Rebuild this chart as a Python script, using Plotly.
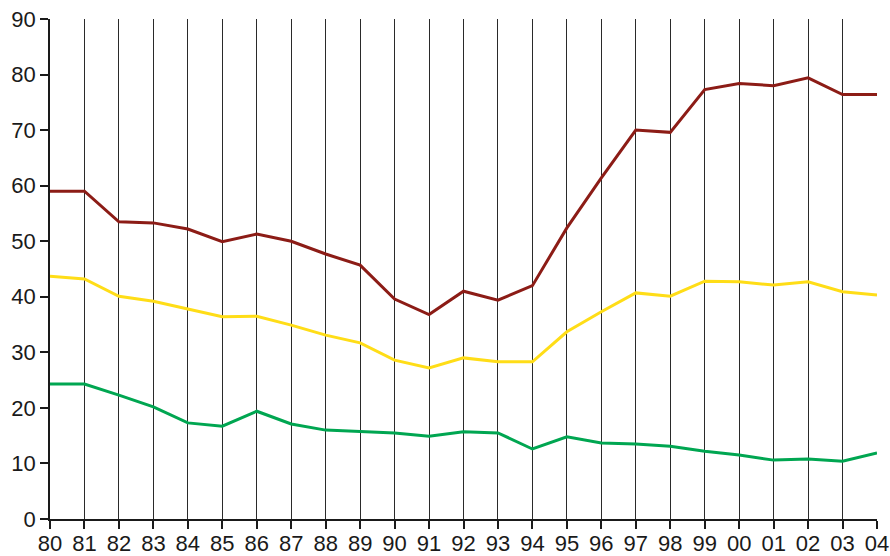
import plotly.graph_objects as go

# Two-digit year labels, 1980 to 2004
years = ["80", "81", "82", "83", "84", "85", "86", "87", "88", "89", "90", "91", "92",
         "93", "94", "95", "96", "97", "98", "99", "00", "01", "02", "03", "04"]

series_red = [59.0, 59.0, 53.5, 53.3, 52.2, 49.9, 51.3, 50.0, 47.7, 45.7, 39.6, 36.8, 41.0,
              39.4, 42.0, 52.4, 61.4, 70.0, 69.6, 77.3, 78.4, 78.0, 79.4, 76.4, 76.4]
series_yellow = [43.7, 43.2, 40.1, 39.2, 37.8, 36.4, 36.5, 34.9, 33.1, 31.7, 28.6, 27.2, 29.0,
                 28.3, 28.3, 33.7, 37.3, 40.7, 40.1, 42.8, 42.7, 42.1, 42.7, 40.9, 40.3]
series_green = [24.3, 24.3, 22.3, 20.2, 17.3, 16.7, 19.4, 17.1, 16.0, 15.8, 15.5, 14.9, 15.7,
                15.5, 12.6, 14.8, 13.7, 13.5, 13.1, 12.2, 11.5, 10.6, 10.8, 10.4, 11.9]

y_ticks = [0, 10, 20, 30, 40, 50, 60, 70, 80, 90]

x_idx = list(range(len(years)))

fig = go.Figure()
for vals, color in [(series_red, "#8c1c16"), (series_yellow, "#ffdd17"), (series_green, "#00a651")]:
    fig.add_trace(go.Scatter(x=x_idx, y=vals, mode="lines",
                             line=dict(color=color, width=3), showlegend=False,
                             hoverinfo="skip"))

tick_font = dict(family="Liberation Sans, Arial, sans-serif", size=22, color="#1a1a1a")

fig.update_layout(
    width=890, height=556,
    margin=dict(l=50, r=13, t=19, b=37, autoexpand=False),
    paper_bgcolor="white", plot_bgcolor="white",
    font=tick_font,
    xaxis=dict(
        range=[0, 24], tickmode="array", tickvals=x_idx, ticktext=years,
        tickfont=tick_font, automargin=False, ticklabelstandoff=-4,
        showgrid=True, gridcolor="#2a2a2a", gridwidth=1,
        showline=True, linecolor="#1a1a1a", linewidth=1.5,
        ticks="outside", ticklen=8, tickcolor="#1a1a1a", tickwidth=1.5,
        zeroline=False, fixedrange=True,
    ),
    yaxis=dict(
        range=[0, 90], tickmode="array", tickvals=y_ticks,
        tickfont=tick_font, automargin=False,
        showgrid=False,
        showline=True, linecolor="#1a1a1a", linewidth=1.5,
        ticks="outside", ticklen=8, tickcolor="#1a1a1a", tickwidth=1.5,
        zeroline=False, fixedrange=True,
    ),
)

fig.write_html("out.html")
